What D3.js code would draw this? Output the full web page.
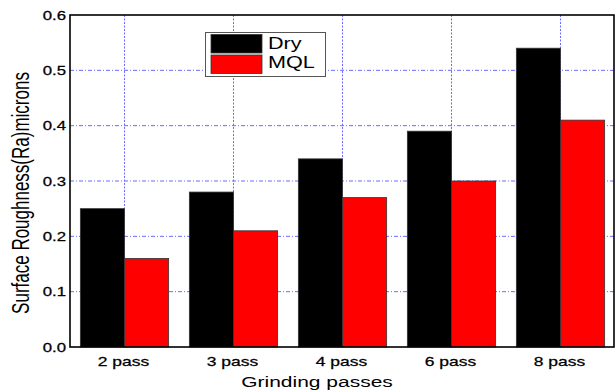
<!DOCTYPE html>
<html><head><meta charset="utf-8">
<script src="https://cdn.jsdelivr.net/npm/d3@7"></script>
<style>body{margin:0;background:#fff}text{font-family:"Liberation Sans",Arial,sans-serif;fill:#000}</style>
</head><body><svg id="c" width="615" height="392"></svg>
<script>
const categories = ["2 pass","3 pass","4 pass","6 pass","8 pass"];
const seriesNames = ["Dry","MQL"];
const dryValues = [0.25,0.28,0.34,0.39,0.54];
const mqlValues = [0.16,0.21,0.27,0.30,0.41];
const yTicks = [0.0,0.1,0.2,0.3,0.4,0.5,0.6];
const colors = ["#000000","#ff0000"];

const svg = d3.select("#c");
const L=70, R=614, T=15, B=347, SX=1.4;
const x = d3.scaleBand().domain(categories).range([70,615]).padding(0);
const y = d3.scaleLinear().domain([0,0.6]).range([B,T]);
const inner = d3.scaleBand().domain(seriesNames).range([0, x.bandwidth()*0.81]).padding(0);
const off = (x.bandwidth() - inner.range()[1])/2;

// grid
svg.append("g").selectAll("line").data(yTicks.slice(1,-1)).join("line")
  .attr("x1",L).attr("x2",R).attr("y1",d=>y(d)).attr("y2",d=>y(d))
  .attr("stroke","#6a6aff").attr("stroke-width",1).attr("stroke-dasharray","4,2,1,2");
svg.append("g").selectAll("line").data(categories).join("line")
  .attr("x1",d=>x(d)+x.bandwidth()/2).attr("x2",d=>x(d)+x.bandwidth()/2)
  .attr("y1",T).attr("y2",B)
  .attr("stroke","#6a6aff").attr("stroke-width",1).attr("stroke-dasharray","2,1.5");

// bars
const data = categories.map((c,i)=>({c, vals:[dryValues[i], mqlValues[i]]}));
const g = svg.append("g");
data.forEach(d=>{
  d.vals.forEach((v,j)=>{
    g.append("rect")
      .attr("x", x(d.c)+off+inner(seriesNames[j]))
      .attr("y", y(v))
      .attr("width", inner.bandwidth())
      .attr("height", y(0)-y(v))
      .attr("fill", colors[j]).attr("stroke","#333").attr("stroke-width",0.8);
  });
});

// axes box
svg.append("rect").attr("x",L).attr("y",T).attr("width",R-L).attr("height",B-T)
  .attr("fill","none").attr("stroke","#000").attr("stroke-width",1.6);

// y axis ticks
const yAxis = d3.axisLeft(y).tickValues(yTicks).tickFormat(d3.format(".1f")).tickSize(0).tickPadding(0);
const ya = svg.append("g").attr("transform",`translate(${L},0)`).call(yAxis);
ya.select(".domain").remove();
ya.selectAll("text").remove();
yTicks.forEach(t=>{
  svg.append("text").attr("transform",`translate(66,${y(t)+4.5}) scale(${SX},1)`)
    .attr("text-anchor","end").attr("font-size",12).attr("stroke","#000").attr("stroke-width",0.25).text(d3.format(".1f")(t));
});
// x axis
const xAxis = d3.axisBottom(x).tickSize(0);
const xa = svg.append("g").attr("transform",`translate(0,${B})`).call(xAxis);
xa.select(".domain").remove();
xa.selectAll("text").remove();
categories.forEach(c=>{
  svg.append("text").attr("transform",`translate(${x(c)+x.bandwidth()/2-1},366) scale(${SX},1)`)
    .attr("text-anchor","middle").attr("font-size",12.5).attr("stroke","#000").attr("stroke-width",0.25).text(c);
});

// axis titles
svg.append("text").attr("transform",`translate(317,387) scale(${SX},1)`)
  .attr("text-anchor","middle").attr("font-size",15).text("Grinding passes");
svg.append("text").attr("transform",`translate(29,193) scale(${SX},1) rotate(-90)`)
  .attr("text-anchor","middle").attr("font-size",17).text("Surface Roughness(Ra)microns");

// legend
const lg = svg.append("g");
lg.append("rect").attr("x",205.5).attr("y",32.5).attr("width",120).attr("height",44)
  .attr("fill","#fff").attr("stroke","#555").attr("stroke-width",1);
seriesNames.forEach((s,j)=>{
  lg.append("rect").attr("x",211).attr("y",34.5+j*20.5).attr("width",51).attr("height",18.5)
    .attr("fill",colors[j]).attr("stroke","#333").attr("stroke-width",0.8);
  lg.append("text").attr("transform",`translate(268,${48.5+j*19.5}) scale(1.35,1)`)
    .attr("font-size",16).text(s);
});
</script></body></html>
